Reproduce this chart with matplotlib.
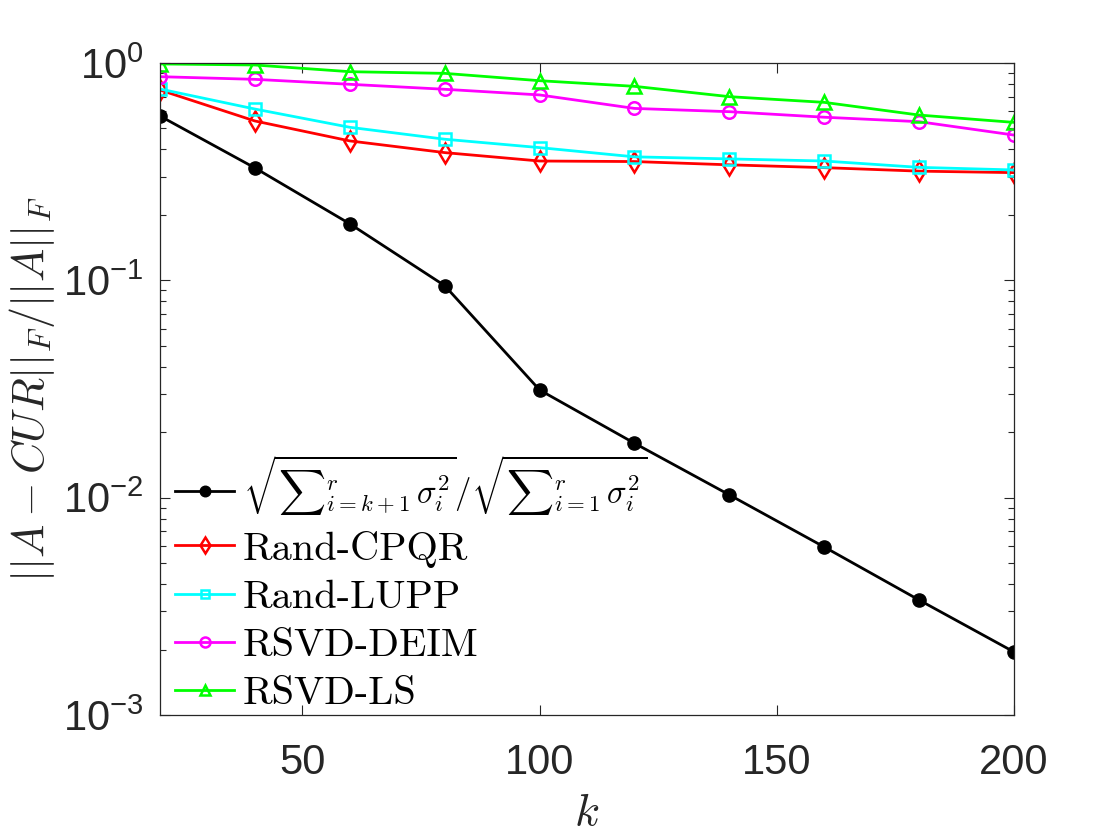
import matplotlib
matplotlib.use('Agg')
import matplotlib.pyplot as plt
from matplotlib.font_manager import FontProperties
from matplotlib.ticker import LogLocator, NullFormatter

plt.rcParams['font.family'] = ['Liberation Sans', 'DejaVu Sans']
plt.rcParams['mathtext.fontset'] = 'cm'

k = [20, 40, 60, 80, 100, 120, 140, 160, 180, 200]

svd_bound = [0.570, 0.329, 0.182, 0.0945, 0.0313, 0.0178,
             0.0103, 0.00593, 0.00338, 0.00195]
rand_cpqr = [0.751, 0.541, 0.438, 0.387, 0.354, 0.352,
             0.340, 0.330, 0.318, 0.313]
rand_lupp = [0.759, 0.614, 0.506, 0.446, 0.408, 0.370,
             0.362, 0.354, 0.331, 0.322]
rsvd_deim = [0.865, 0.841, 0.798, 0.757, 0.713, 0.618,
             0.597, 0.563, 0.537, 0.466]
rsvd_ls = [0.99, 0.979, 0.912, 0.896, 0.829, 0.781,
           0.70, 0.659, 0.576, 0.533]

labels = [r'$\sqrt{{\sum}_{i=k+1}^{r}\,\sigma_i^2}/\sqrt{{\sum}_{i=1}^{r}\,\sigma_i^2}$',
          'Rand-CPQR', 'Rand-LUPP', 'RSVD-DEIM', 'RSVD-LS']

axis_color = '#262626'
lw = 2.0

fig = plt.figure(figsize=(11.2, 8.4), dpi=100)
ax = fig.add_axes([0.1429, 0.1488, 0.9054 - 0.1429, 0.925 - 0.1488])

ax.semilogy(k, svd_bound, color='k', lw=lw, marker='o', ms=9.5,
            markerfacecolor='k', label=labels[0])
ax.semilogy(k, rand_cpqr, color='#ff0000', lw=lw, marker='d', ms=10,
            markerfacecolor='none', mew=1.8, label=labels[1])
ax.semilogy(k, rand_lupp, color='#00ffff', lw=lw, marker='s', ms=8,
            markerfacecolor='none', mew=1.8, label=labels[2])
ax.semilogy(k, rsvd_deim, color='#ff00ff', lw=lw, marker='o', ms=9,
            markerfacecolor='none', mew=1.8, label=labels[3])
ax.semilogy(k, rsvd_ls, color='#00ff00', lw=lw, marker='^', ms=9.5,
            markerfacecolor='none', mew=1.8, label=labels[4])

ax.set_xlim(20, 200)
ax.set_ylim(1e-3, 1e0)
ax.set_xticks([50, 100, 150, 200])
ax.yaxis.set_major_locator(LogLocator(base=10, numticks=10))
ax.yaxis.set_minor_locator(LogLocator(base=10, subs=range(2, 10), numticks=10))
ax.yaxis.set_minor_formatter(NullFormatter())

ax.tick_params(axis='both', which='major', direction='in', top=True,
               right=True, length=7, width=0.8, labelsize=30,
               colors=axis_color)
ax.tick_params(axis='x', which='major', pad=20)
ax.tick_params(axis='y', which='major', pad=12)
ax.tick_params(axis='y', which='minor', direction='in', right=True,
               length=4, width=0.8, colors=axis_color)
ax.tick_params(axis='x', which='minor', bottom=False, top=False)
for s in ax.spines.values():
    s.set_color(axis_color)
    s.set_linewidth(0.9)

ax.set_xlabel(r'$k$', fontsize=33, color=axis_color, labelpad=6)
ax.set_ylabel(r'$||A-CUR||_F/||A||_F$', fontsize=32, color=axis_color,
              labelpad=4)

leg = ax.legend(loc='lower left', bbox_to_anchor=(0.018, 0.004),
                frameon=False,
                prop=FontProperties(family='cmr10', size=29),
                handlelength=1.46, handletextpad=0.22, labelspacing=0.3,
                borderaxespad=0, borderpad=0, markerscale=0.8)
leg.get_texts()[0].set_fontsize(23.5)

fig.savefig('out.png', dpi=100)
